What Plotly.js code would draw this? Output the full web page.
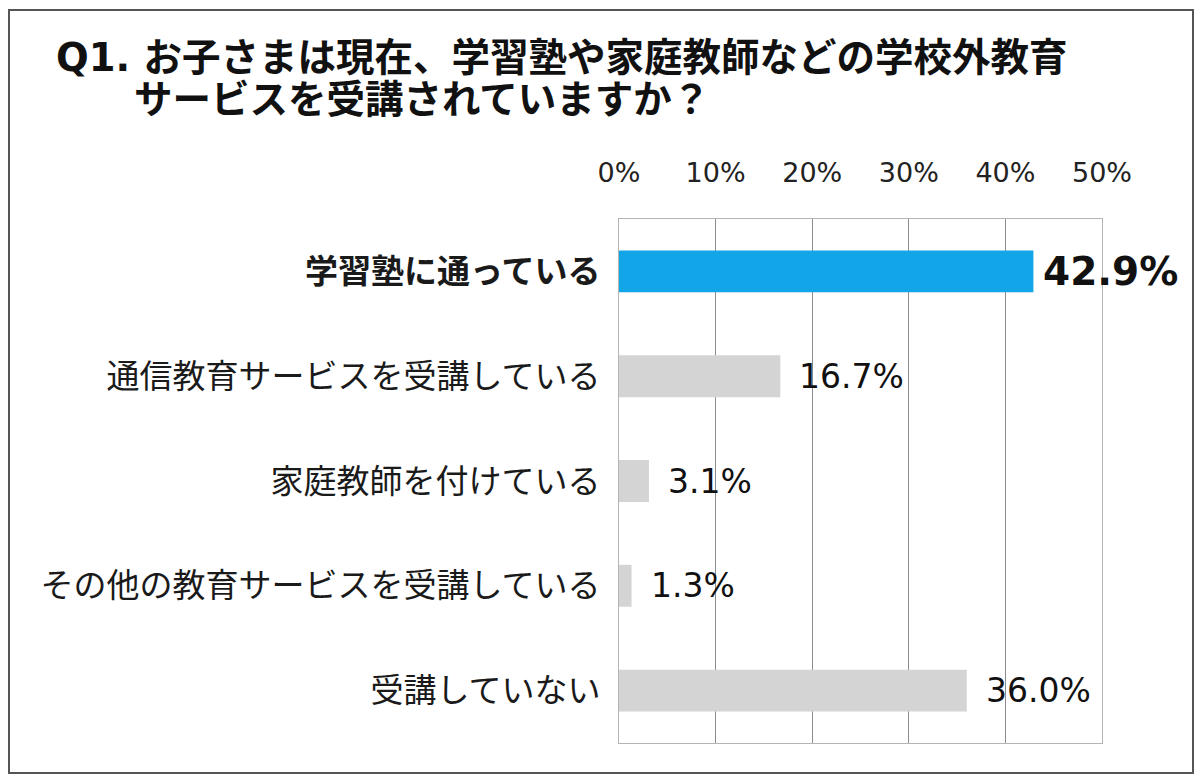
<!DOCTYPE html>
<html>
<head>
<meta charset="utf-8">
<script src="https://cdn.plot.ly/plotly-3.0.1.min.js"></script>
<style>
html,body{margin:0;padding:0;background:#fff;}
#chart{width:1200px;height:784px;}
</style>
</head>
<body>
<div id="chart"></div>
<script>
const titleLine1 = "Q1. お子さまは現在、学習塾や家庭教師などの学校外教育";
const titleLine2 = "サービスを受講されていますか？";
const categories = [
  "学習塾に通っている",
  "通信教育サービスを受講している",
  "家庭教師を付けている",
  "その他の教育サービスを受講している",
  "受講していない"
];
const values = [42.9, 16.7, 3.1, 1.3, 36.0];
const tickValues = [0, 10, 20, 30, 40, 50];
const tickLabels = ["0%", "10%", "20%", "30%", "40%", "50%"];

const FONT = "'DejaVu Sans', 'Noto Sans CJK JP', sans-serif";
const JFONT = "'Noto Sans CJK JP', 'DejaVu Sans', sans-serif";

const barColors = values.map((v, i) => i === 0 ? "#12A6E8" : "#D4D4D4");
const ticktext = categories.map((c, i) => i === 0 ? "<b>" + c + "</b>" : c);

const trace = {
  type: "bar",
  orientation: "h",
  x: values,
  y: categories,
  marker: {color: barColors, line: {width: 0}},
  hoverinfo: "skip"
};

// Plot area in pixels
const L = 619, R = 1102, T = 219, B = 743, W = 1200, H = 784;
const px = p => (p - L) / (R - L);
const py = p => (B - p) / (B - T);

const annotations = values.map((v, i) => ({
  x: v, y: categories[i], xref: "x", yref: "y",
  text: i === 0 ? "<b>" + v.toFixed(1) + "%</b>" : v.toFixed(1) + "%",
  showarrow: false, xanchor: "left", yanchor: "middle",
  xshift: i === 0 ? 8 : 17,
  font: {family: FONT, size: i === 0 ? 39 : 33, color: "#111"}
}));
annotations.push({
  x: px(54), y: py(57), xref: "paper", yref: "paper",
  text: "<b>" + titleLine1 + "</b>", showarrow: false,
  xanchor: "left", yanchor: "middle",
  font: {family: FONT, size: 38.5, color: "#111"}
});
annotations.push({
  x: px(132), y: py(100), xref: "paper", yref: "paper",
  text: "<b>" + titleLine2 + "</b>", showarrow: false,
  xanchor: "left", yanchor: "middle",
  font: {family: FONT, size: 38.5, color: "#111"}
});

const layout = {
  width: W, height: H,
  margin: {l: L, r: W - R, t: T, b: H - B, pad: 0},
  paper_bgcolor: "#fff",
  plot_bgcolor: "#fff",
  showlegend: false,
  bargap: 0.6,
  xaxis: {
    side: "top",
    range: [0, 50],
    tickvals: tickValues,
    ticktext: tickLabels,
    ticks: "",
    ticklabelstandoff: 25,
    showgrid: true,
    gridcolor: "#8c8c8c",
    gridwidth: 1,
    zeroline: false,
    showline: true,
    mirror: true,
    linecolor: "#b4b4b4",
    linewidth: 1,
    tickfont: {family: FONT, size: 27, color: "#222"},
    fixedrange: true
  },
  yaxis: {
    autorange: "reversed",
    type: "category",
    tickvals: categories,
    ticktext: ticktext,
    ticks: "",
    ticklabelstandoff: 11,
    showgrid: false,
    zeroline: false,
    showline: true,
    mirror: true,
    linecolor: "#b4b4b4",
    linewidth: 1,
    tickfont: {family: JFONT, size: 33, color: "#1a1a1a"},
    fixedrange: true
  },
  shapes: [{
    type: "rect", xref: "paper", yref: "paper",
    x0: px(9), x1: px(1193), y0: py(773), y1: py(10),
    line: {color: "#555", width: 2}, fillcolor: "rgba(0,0,0,0)", layer: "below"
  }],
  annotations: annotations
};

Plotly.newPlot("chart", [trace], layout, {displayModeBar: false, staticPlot: true});
</script>
</body>
</html>
